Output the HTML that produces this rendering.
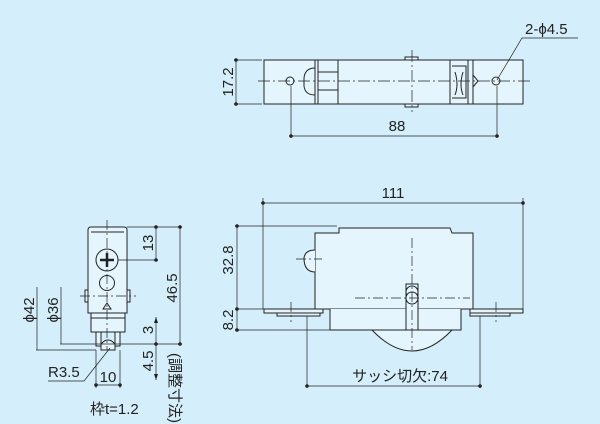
<!DOCTYPE html>
<html><head><meta charset="utf-8"><style>
html,body{margin:0;padding:0;background:#d4eefb;}
svg{display:block}
text{font-family:"Liberation Sans","Noto Sans CJK JP",sans-serif;fill:#222;font-size:15px}
</style></head><body>
<svg width="600" height="424" viewBox="0 0 600 424" xmlns="http://www.w3.org/2000/svg">
<g stroke="#222" stroke-width="1" fill="none">
<!-- TOP VIEW -->
<rect x="264" y="60" width="259" height="44" fill="#e4f5fd"/>
<line x1="315" y1="60" x2="315" y2="104"/>
<rect x="318" y="60" width="20" height="44" fill="#e4f5fd"/>
<line x1="318" y1="72" x2="338" y2="72"/><line x1="318" y1="90" x2="338" y2="90"/>
<path d="M315,68 Q305,68 304,78 L304,86 Q305,95 315,95" />
<rect x="450" y="60" width="18" height="44" fill="#e4f5fd"/>
<path d="M452,66 L466,66 L466,98 L452,98 M455,72 Q459,85 455,95 M463,72 Q459,85 463,95"/>
<line x1="473" y1="60" x2="473" y2="104"/>
<path d="M473,75 L478,81 L473,87"/>
<rect x="405" y="57" width="13" height="3" fill="#e4f5fd"/>
<rect x="405" y="104" width="13" height="3" fill="#e4f5fd"/>
<circle cx="290" cy="81" r="4" fill="#e4f5fd"/>
<circle cx="496" cy="81" r="4" fill="#e4f5fd"/>
<line x1="258" y1="81" x2="530" y2="81" stroke-dasharray="12,3,2,3" stroke-width="0.7"/>
<line x1="412" y1="50" x2="412" y2="112" stroke-dasharray="12,3,2,3" stroke-width="0.7"/>
<!-- dims top -->
<g stroke-width="0.7">
<line x1="234" y1="60" x2="262" y2="60"/><line x1="234" y1="104" x2="262" y2="104"/>
<line x1="236" y1="60" x2="236" y2="104"/>
<line x1="291" y1="86" x2="291" y2="138"/><line x1="497" y1="86" x2="497" y2="138"/>
<line x1="291" y1="136" x2="497" y2="136"/>
<polyline points="497,80 522,38 578,38"/>
</g>
<!-- SIDE VIEW -->
<path d="M88,230 Q88,227 91,227 L124,227 Q127,227 127,230 L127,313 L88,313 Z" fill="#e4f5fd"/>
<line x1="91" y1="232" x2="124" y2="232"/>
<rect x="91" y="313" width="34" height="19" fill="#e4f5fd"/>
<line x1="91" y1="318" x2="125" y2="318"/>
<rect x="96" y="332" width="5" height="14" fill="#e4f5fd"/>
<rect x="115" y="332" width="5" height="14" fill="#e4f5fd"/>
<path d="M101,344 Q108,336 115,344 L115,350 L101,350 Z" fill="#e4f5fd"/>
<rect x="85" y="290" width="3" height="12" fill="#e4f5fd"/>
<rect x="127" y="290" width="3" height="12" fill="#e4f5fd"/>
<circle cx="107" cy="260" r="11" fill="#e4f5fd"/>
<path d="M100,260 L114,260 M107,253 L107,267" stroke-width="2.5"/>
<circle cx="107" cy="283" r="7.5" fill="#e4f5fd"/>
<path d="M103,309 L107,303 L111,309 Z"/>
<line x1="107" y1="220" x2="107" y2="350" stroke-dasharray="10,3,2,3" stroke-width="0.7"/>
<line x1="80" y1="296" x2="136" y2="296" stroke-dasharray="10,3,2,3" stroke-width="0.7"/>
<g stroke-width="0.7">
<line x1="127" y1="227" x2="182" y2="227"/>
<line x1="118" y1="260" x2="158" y2="260"/>
<line x1="156" y1="227" x2="156" y2="260"/>
<line x1="180" y1="227" x2="180" y2="344"/>
<line x1="60" y1="344" x2="182" y2="344"/>
<line x1="36" y1="350" x2="96" y2="350"/>
<line x1="37" y1="287" x2="37" y2="350"/>
<line x1="61" y1="287" x2="61" y2="344"/>
<line x1="156" y1="317" x2="156" y2="344"/>
<line x1="156" y1="344" x2="156" y2="380"/>
<line x1="96" y1="350" x2="96" y2="388"/><line x1="120" y1="350" x2="120" y2="388"/>
<line x1="96" y1="385" x2="120" y2="385"/>
<polyline points="48,381 84,381 110,348"/>
</g>
<!-- FRONT VIEW -->
<path d="M315,233 L339,233 L339,228 L450,228 L452,233 L473,233 L473,309 L315,309 Z" fill="#e4f5fd"/>
<path d="M315,250 Q305,250 304,258 Q304,272 315,272" fill="#e4f5fd"/>
<path d="M372,330 Q412,372 452,330" fill="#e4f5fd"/>
<path d="M330,309 L330,330 L461,330 L461,309" fill="#e4f5fd"/>
<rect x="264" y="309" width="59" height="4" fill="#e4f5fd"/>
<rect x="277" y="313" width="43" height="3" fill="#e4f5fd"/>
<rect x="470" y="309" width="53" height="4" fill="#e4f5fd"/>
<rect x="470" y="313" width="40" height="3" fill="#e4f5fd"/>
<rect x="406" y="284" width="12" height="46" fill="#e4f5fd"/>
<circle cx="412" cy="292" r="6" fill="#e4f5fd"/>
<circle cx="412" cy="298" r="6" fill="#e4f5fd"/>
<g stroke-width="0.7" stroke-dasharray="10,3,2,3">
<line x1="412" y1="238" x2="412" y2="350"/>
<line x1="355" y1="298" x2="470" y2="298"/>
<line x1="296" y1="259" x2="322" y2="259"/>
<line x1="291" y1="302" x2="291" y2="322"/>
<line x1="496" y1="302" x2="496" y2="322"/>
</g>
<g stroke-width="0.7">
<line x1="263" y1="198" x2="263" y2="309"/><line x1="523" y1="198" x2="523" y2="309"/>
<line x1="263" y1="203" x2="523" y2="203"/>
<line x1="235" y1="226" x2="337" y2="226"/>
<line x1="235" y1="309" x2="264" y2="309"/>
<line x1="235" y1="330" x2="330" y2="330"/>
<line x1="237" y1="226" x2="237" y2="330"/>
<line x1="307" y1="316" x2="307" y2="388"/><line x1="480" y1="316" x2="480" y2="388"/>
<line x1="307" y1="386" x2="480" y2="386"/>
</g>
</g>
<g fill="#222">
<circle cx="236" cy="60" r="1.8"/><circle cx="236" cy="104" r="1.8"/>
<circle cx="291" cy="136" r="1.8"/><circle cx="497" cy="136" r="1.8"/>
<circle cx="156" cy="227" r="1.8"/><circle cx="156" cy="260" r="1.8"/>
<circle cx="180" cy="227" r="1.8"/><circle cx="180" cy="344" r="1.8"/>
<circle cx="156" cy="344" r="1.8"/><circle cx="96" cy="385" r="1.8"/><circle cx="120" cy="385" r="1.8"/>
<circle cx="263" cy="203" r="1.8"/><circle cx="523" cy="203" r="1.8"/>
<circle cx="237" cy="226" r="1.8"/><circle cx="237" cy="309" r="1.8"/><circle cx="237" cy="330" r="1.8"/>
<circle cx="307" cy="386" r="1.8"/><circle cx="480" cy="386" r="1.8"/>
<path d="M156,317 l-2,6 l4,0 Z M156,380 l-2,-6 l4,0 Z"/>
</g>
<text x="525" y="34">2-ϕ4.5</text>
<text x="397" y="131" text-anchor="middle">88</text>
<text transform="translate(233,82) rotate(-90)" text-anchor="middle">17.2</text>
<text x="393" y="198" text-anchor="middle">111</text>
<text transform="translate(233,260) rotate(-90)" text-anchor="middle">32.8</text>
<text transform="translate(233,320) rotate(-90)" text-anchor="middle">8.2</text>
<text x="400" y="381" text-anchor="middle">サッシ切欠:74</text>
<text transform="translate(153,243) rotate(-90)" text-anchor="middle">13</text>
<text transform="translate(177,288) rotate(-90)" text-anchor="middle">46.5</text>
<text transform="translate(153,330) rotate(-90)" text-anchor="middle">3</text>
<text transform="translate(153,361) rotate(-90)" text-anchor="middle">4.5</text>
<text transform="translate(34,310) rotate(-90)" text-anchor="middle">ϕ42</text>
<text transform="translate(58,310) rotate(-90)" text-anchor="middle">ϕ36</text>
<text x="48" y="377">R3.5</text>
<text x="108" y="382" text-anchor="middle">10</text>
<text x="90" y="414">枠t=1.2</text>
<text transform="translate(170,388) rotate(90)" text-anchor="middle" font-size="14">(調整寸法)</text>
</svg>
</body></html>
